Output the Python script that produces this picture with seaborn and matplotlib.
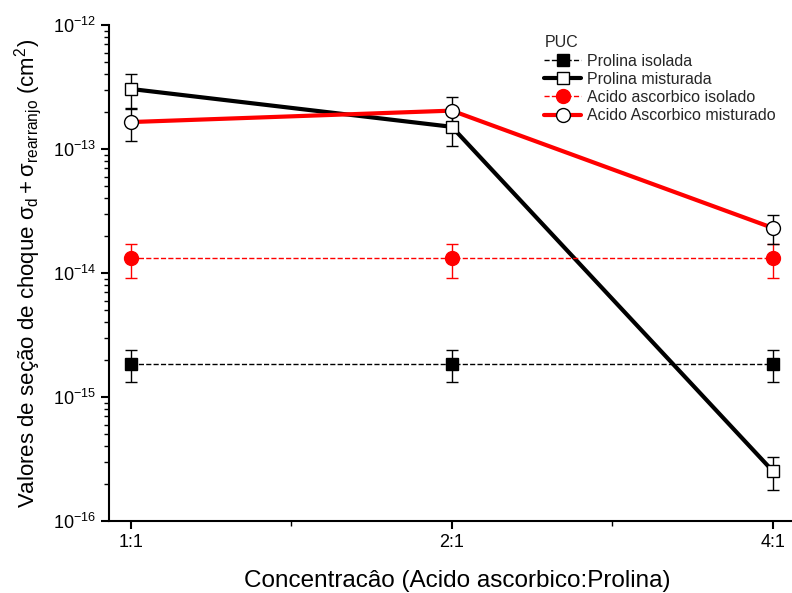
import matplotlib
matplotlib.use('Agg')
import matplotlib.pyplot as plt
import numpy as np
import seaborn as sns

# data
ratios = ['1:1', '2:1', '4:1']
positions = [0, 1, 2]

prolina_isolada = [1.86e-15, 1.86e-15, 1.86e-15]
prolina_isolada_err = [0.55e-15, 0.55e-15, 0.55e-15]

prolina_misturada = [3.05e-13, 1.51e-13, 2.53e-16]
prolina_misturada_err = [0.95e-13, 0.45e-13, 0.75e-16]

acido_isolado = [1.32e-14, 1.32e-14, 1.32e-14]
acido_isolado_err = [0.40e-14, 0.40e-14, 0.40e-14]

acido_misturado = [1.65e-13, 2.04e-13, 2.31e-14]
acido_misturado_err = [0.50e-13, 0.60e-13, 0.60e-14]

decades = [1e-16, 1e-15, 1e-14, 1e-13, 1e-12]

sns.set_theme(style='ticks')
plt.rcParams['font.family'] = ['Liberation Sans', 'DejaVu Sans']
plt.rcParams['mathtext.fontset'] = 'custom'
plt.rcParams['mathtext.rm'] = 'Liberation Sans'
plt.rcParams['mathtext.it'] = 'Liberation Sans'
plt.rcParams['mathtext.bf'] = 'Liberation Sans:bold'
plt.rcParams['axes.unicode_minus'] = False

fig = plt.figure(figsize=(7.92, 5.93), dpi=100)
ax = fig.add_axes([0.1376, 0.1214, 0.8624, 0.8364])

series = [
    ('Prolina isolada', prolina_isolada, prolina_isolada_err, 'black', '--', 1.0, 's', 'black', 'black'),
    ('Prolina misturada', prolina_misturada, prolina_misturada_err, 'black', '-', 3.0, 's', 'white', 'black'),
    ('Acido ascorbico isolado', acido_isolado, acido_isolado_err, 'red', '--', 1.0, 'o', 'red', 'red'),
    ('Acido Ascorbico misturado', acido_misturado, acido_misturado_err, 'red', '-', 3.0, 'o', 'white', 'black'),
]

for label, vals, err, color, ls, lw, marker, face, ecol in series:
    ax.errorbar(positions, vals, yerr=err, fmt='none', ecolor=ecol,
                elinewidth=1.0, capsize=4.5, capthick=1.0, zorder=2)
    sns.lineplot(x=positions, y=vals, ax=ax, color=color, linestyle=ls,
                 linewidth=lw, marker=marker, markersize=10 if marker == 'o' else 9,
                 markerfacecolor=face, markeredgecolor='black' if face == 'white' else color,
                 markeredgewidth=1.0, label=label, zorder=3)

ax.set_yscale('log')
ax.set_ylim(decades[0], decades[-1])
ax.set_xlim(-0.0685, 2.06)
ax.set_xticks(positions)
ax.set_xticklabels(ratios)
ax.set_xticks([0.5, 1.5], minor=True)
ax.yaxis.set_major_locator(matplotlib.ticker.FixedLocator(decades))
ax.yaxis.set_major_formatter(matplotlib.ticker.LogFormatterSciNotation())
minor = [m * d for d in decades[:-1] for m in range(2, 10)]
ax.yaxis.set_minor_locator(matplotlib.ticker.FixedLocator(minor))
ax.yaxis.set_minor_formatter(matplotlib.ticker.NullFormatter())

for side in ['top', 'right']:
    ax.spines[side].set_visible(False)
for side in ['left', 'bottom']:
    ax.spines[side].set_linewidth(1.5)
    ax.spines[side].set_color('black')

ax.tick_params(which='major', direction='out', length=6, width=1.5, colors='black', labelsize=13)
ax.tick_params(which='minor', direction='out', length=3.5, width=1.0, colors='black')

ax.set_xlabel('Concentracâo (Acido ascorbico:Prolina)', fontsize=17.5, color='black')
ax.xaxis.set_label_coords(0.51, -0.098)
ax.set_ylabel(r'Valores de seção de choque $\sigma_{d}+\sigma_{rearranjo}$ (cm$^{2}$)',
              fontsize=16, color='black', labelpad=6)

leg = ax.legend(title='PUC', loc='upper left', bbox_to_anchor=(0.628, 0.992),
                frameon=False, fontsize=11.5, title_fontsize=11.5,
                handlelength=2.3, handletextpad=0.35, labelspacing=0.2, borderaxespad=0)
leg._legend_box.align = 'left'

ax.set_facecolor('white')
fig.patch.set_facecolor('white')
fig.savefig('out.png', dpi=100)
